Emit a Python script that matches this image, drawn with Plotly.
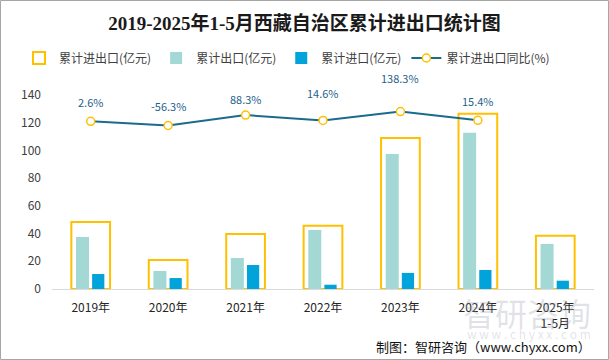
import plotly.graph_objects as go

categories = ["2019年", "2020年", "2021年", "2022年", "2023年", "2024年", "2025年<br>1-5月"]
total_trade = [48.3, 20.9, 39.7, 45.7, 109.0, 126.5, 38.5]
exports = [37.5, 13.0, 22.4, 42.6, 97.4, 112.8, 32.5]
imports = [10.8, 7.9, 17.3, 3.1, 11.6, 13.7, 6.0]
yoy_cats = ["2019年", "2020年", "2021年", "2022年", "2023年", "2024年"]
yoy = [2.6, -56.3, 88.3, 14.6, 138.3, 15.4]
yoy_labels = ["2.6%", "-56.3%", "88.3%", "14.6%", "138.3%", "15.4%"]
label_shift = [19, 20, 16, 27, 34, 19]

FONT = "Noto Sans CJK SC"
W, H = 609, 360
ML, MR, MT, MB = 52, 15, 95, 71
PW = W - ML - MR
PH = H - MT - MB

fig = go.Figure()
fig.add_trace(go.Bar(
    x=categories, y=total_trade, name="累计进出口(亿元)",
    width=0.5, offset=-0.25,
    marker=dict(color="rgba(255,255,255,0)", line=dict(color="#FFC000", width=2)),
))
fig.add_trace(go.Bar(
    x=categories, y=exports, name="累计出口(亿元)",
    width=0.168, offset=-0.19,
    marker=dict(color="#A3D8D5", line=dict(width=0)),
))
fig.add_trace(go.Bar(
    x=categories, y=imports, name="累计进口(亿元)",
    width=0.158, offset=0.018,
    marker=dict(color="#00A3DA", line=dict(width=0)),
))
fig.add_trace(go.Scatter(
    x=yoy_cats, y=yoy, name="累计进出口同比(%)", yaxis="y2",
    mode="lines+markers",
    line=dict(color="#1B6B8C", width=2),
    marker=dict(size=8, color="white", line=dict(color="#FFC000", width=1.5)),
))

for c, v, t, s in zip(yoy_cats, yoy, yoy_labels, label_shift):
    fig.add_annotation(x=c, y=v, yref="y2", text=t, showarrow=False,
                       yshift=s, font=dict(family=FONT, size=11, color="#1F5F8B"))

# source + watermark
fig.add_annotation(xref="paper", yref="paper", x=(593 - ML) / PW, y=(H - MB - 346) / PH,
                   xanchor="right", yanchor="middle", showarrow=False,
                   text="制图：智研咨询（www.chyxx.com）",
                   font=dict(family=FONT, size=13, color="#111111"))
fig.add_annotation(xref="paper", yref="paper", x=(593 - ML) / PW, y=(H - MB - 312) / PH,
                   xanchor="right", yanchor="middle", showarrow=False,
                   text="智研咨询", font=dict(family=FONT, size=32, color="rgba(150,155,170,0.28)"))
fig.add_annotation(xref="paper", yref="paper", x=(593 - ML) / PW, y=(H - MB - 333) / PH,
                   xanchor="right", yanchor="middle", showarrow=False,
                   text="w w w . c h y x x . c o m", font=dict(family=FONT, size=12, color="rgba(150,155,170,0.28)"))

# outer border
fig.add_shape(type="rect", xref="paper", yref="paper",
              x0=(0.5 - ML) / PW, x1=(W - 0.5 - ML) / PW,
              y0=(H - MB - (H - 0.5)) / PH, y1=(H - MB - 0.5) / PH,
              line=dict(color="#A6A6A6", width=1), layer="below")

fig.update_layout(
    width=W, height=H,
    margin=dict(l=ML, r=MR, t=MT, b=MB, autoexpand=False),
    paper_bgcolor="white", plot_bgcolor="white",
    barmode="overlay",
    title=dict(text="<b>2019-2025年1-5月西藏自治区累计进出口统计图</b>",
               x=0.5, xref="container", xanchor="center",
               y=1 - 23 / H, yref="container", yanchor="middle",
               font=dict(family="Liberation Serif, Noto Sans CJK SC", size=19, color="#1a1a1a")),
    font=dict(family=FONT, size=12, color="#404040"),
    legend=dict(orientation="h", x=19 / W, xref="container", xanchor="left",
                y=1 - 58 / H, yref="container", yanchor="middle",
                font=dict(family=FONT, size=12, color="#404040"), bgcolor="rgba(0,0,0,0)",
                traceorder="normal"),
    xaxis=dict(type="category", showgrid=False, showline=True, linecolor="#D9D9D9", linewidth=1,
               ticks="", automargin=False, ticklabelstandoff=8,
               tickfont=dict(family=FONT, size=12, color="#262626"), fixedrange=True),
    yaxis=dict(range=[0, 140], dtick=20, showgrid=False, zeroline=False, showline=False,
               ticks="", ticklabelstandoff=10, automargin=False,
               tickfont=dict(family=FONT, size=12, color="#404040")),
    yaxis2=dict(range=[-2330, 368], overlaying="y", side="right", visible=False),
    showlegend=True,
)

fig.write_html("out.html", config={"displayModeBar": False},
               post_script="document.body.style.margin='0';document.body.style.overflow='hidden';")
